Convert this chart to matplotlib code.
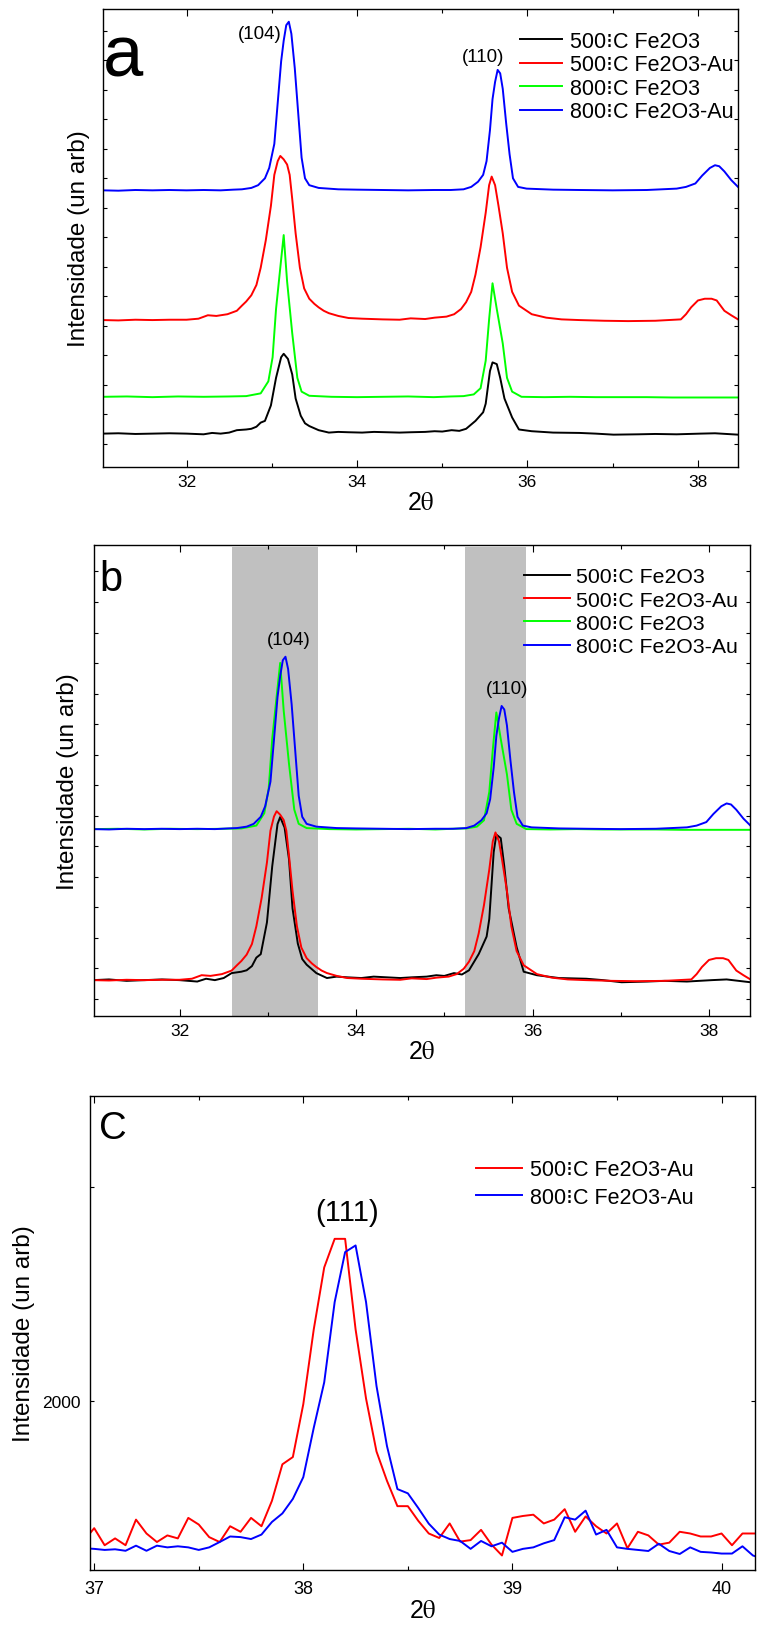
import numpy as np
import matplotlib.pyplot as plt
from matplotlib.ticker import MultipleLocator, FixedLocator

plt.rcParams['font.family'] = ['Liberation Sans', 'DejaVu Sans']
plt.rcParams['mathtext.fontset'] = 'stix'

# XRD patterns, net intensity (arb. units)
x_black = [31.02, 31.2, 31.4, 31.6, 31.8, 32.0, 32.2, 32.3, 32.4, 32.5, 32.59, 32.7, 32.76, 32.82, 32.87,
           32.92, 32.99, 33.05, 33.11, 33.14, 33.19, 33.24, 33.28, 33.34, 33.39, 33.44, 33.55, 33.67, 33.78,
           33.9, 34.06, 34.2, 34.35, 34.5, 34.63, 34.8, 34.91, 35.0, 35.11, 35.2, 35.28, 35.39, 35.48, 35.51,
           35.56, 35.59, 35.64, 35.68, 35.73, 35.82, 35.90, 36.05, 36.3, 36.61, 36.8, 37.01, 37.3, 37.5, 37.75,
           38.03, 38.2, 38.47]
i_black = [0, 7, -7, 0, 7, 0, -14, 14, 0, 21, 70, 84, 98, 140, 224,
           259, 574, 1134, 1554, 1624, 1519, 1204, 714, 364, 210, 154, 70, 21, 35,
           28, 21, 35, 28, 21, 28, 35, 49, 42, 70, 56, 98, 259, 434, 609,
           1274, 1449, 1414, 1134, 714, 329, 84, 49, 21, 14, 0, -21, -14, -7, -14,
           0, 7, -21]

x_red = [31.02, 31.2, 31.4, 31.6, 31.8, 32.0, 32.14, 32.25, 32.35, 32.48, 32.59, 32.65, 32.70, 32.76, 32.82,
         32.87, 32.93, 32.99, 33.03, 33.07, 33.10, 33.14, 33.18, 33.21, 33.24, 33.28, 33.33, 33.38, 33.44,
         33.50, 33.55, 33.61, 33.67, 33.78, 33.9, 34.06, 34.3, 34.5, 34.63, 34.8, 34.91, 35.05, 35.14, 35.22,
         35.28, 35.34, 35.39, 35.45, 35.51, 35.55, 35.58, 35.62, 35.66, 35.71, 35.76, 35.82, 35.90, 36.05,
         36.22, 36.4, 36.61, 36.9, 37.18, 37.5, 37.80, 37.86, 37.92, 38.00, 38.08, 38.16, 38.22, 38.31,
         38.39, 38.47]
i_red = [0, -7, 7, 0, 7, 7, 28, 98, 84, 119, 189, 294, 378, 504, 714,
         1064, 1624, 2324, 2954, 3234, 3339, 3269, 3164, 2954, 2464, 1764, 1064, 644, 434,
         329, 259, 189, 140, 84, 42, 28, 14, 7, 35, 21, 49, 70, 119, 224,
         364, 574, 924, 1484, 2184, 2744, 2919, 2744, 2324, 1764, 1064, 574, 294, 119,
         49, 14, 0, -14, -21, -14, 14, 119, 259, 399, 434, 434, 399, 189,
         98, 14]

x_green = [31.02, 31.3, 31.6, 31.9, 32.2, 32.5, 32.7, 32.87, 32.96, 33.01, 33.05, 33.10, 33.14, 33.18, 33.24,
           33.30, 33.35, 33.44, 33.7, 34.0, 34.3, 34.6, 34.9, 35.1, 35.25, 35.37, 35.45, 35.51, 35.55, 35.59,
           35.64, 35.71, 35.76, 35.82, 35.93, 36.2, 36.5, 36.8, 37.1, 37.4, 37.7, 38.0, 38.3, 38.47]
i_green = [0, 7, -7, 7, 0, 7, 14, 70, 315, 805, 1785, 2625, 3290, 2345, 1295,
           385, 105, 21, 0, -7, 0, 7, -7, 7, 14, 49, 175, 735, 1575, 2310,
           1785, 1085, 385, 105, 0, -7, 0, -7, -7, -7, -14, -14, -14, -14]

x_blue = [31.02, 31.2, 31.4, 31.6, 31.8, 32.0, 32.2, 32.4, 32.55, 32.65, 32.76, 32.84, 32.92, 32.97, 33.03,
          33.07, 33.11, 33.14, 33.17, 33.20, 33.23, 33.27, 33.31, 33.35, 33.39, 33.44, 33.55, 33.78, 34.0,
          34.3, 34.6, 34.9, 35.1, 35.25, 35.34, 35.42, 35.48, 35.52, 35.56, 35.59, 35.62, 35.65, 35.68,
          35.71, 35.75, 35.79, 35.83, 35.89, 35.99, 36.3, 36.61, 37.0, 37.4, 37.75, 37.86, 37.97, 38.05,
          38.14, 38.20, 38.25, 38.31, 38.39, 38.47]
i_blue = [0, -7, 7, 0, 7, 0, 7, 0, 14, 21, 49, 105, 245, 455, 945,
          1785, 2625, 3045, 3360, 3430, 3185, 2485, 1575, 665, 245, 105, 49, 21, 14,
          7, 0, 7, 7, 21, 70, 175, 315, 595, 1225, 1855, 2205, 2450, 2380,
          2065, 1365, 735, 245, 70, 35, 14, 7, 0, 7, 35, 70, 140, 301,
          455, 511, 490, 385, 210, 70]

labels = ['500⁝C Fe2O3', '500⁝C Fe2O3-Au', '800⁝C Fe2O3', '800⁝C Fe2O3-Au']
colors = ['black', 'red', '#00ff00', 'blue']
xs = [x_black, x_red, x_green, x_blue]
ys = [i_black, i_red, i_green, i_blue]

# Au (111) region, counts
x_au = np.round(np.arange(36.95, 40.21, 0.05), 2)
au_500 = [1343, 1403, 1323, 1355, 1323, 1443, 1378, 1338, 1369, 1355, 1451, 1420, 1361, 1338, 1412, 1386,
          1451, 1412, 1531, 1702, 1736, 1984, 2334, 2624, 2758, 2758, 2334, 2010, 1762, 1625, 1506, 1506,
          1437, 1378, 1357, 1425, 1340, 1347, 1395, 1326, 1275, 1451, 1460, 1466, 1425, 1443, 1492, 1386,
          1458, 1412, 1378, 1425, 1309, 1386, 1369, 1326, 1335, 1386, 1378, 1364, 1364, 1378, 1323, 1378,
          1378, 1378]
au_800 = [1309, 1306, 1301, 1304, 1297, 1321, 1297, 1321, 1313, 1318, 1313, 1301, 1313, 1338, 1364, 1361,
          1352, 1373, 1432, 1472, 1540, 1642, 1873, 2086, 2462, 2696, 2727, 2462, 2069, 1788, 1586, 1566,
          1497, 1424, 1373, 1352, 1343, 1306, 1343, 1318, 1335, 1292, 1306, 1313, 1332, 1347, 1454, 1443,
          1485, 1373, 1395, 1313, 1306, 1301, 1296, 1330, 1296, 1282, 1313, 1292, 1289, 1284, 1284, 1318,
          1275, 1258]

offsets_a = [679, 2989, 1428, 5628]
peaks_b = [3311, 3430, 3374, 3500]
offsets_b = [728, 728, 3794, 3794]

W, H = 757, 1633
fig = plt.figure(figsize=(W / 100, H / 100), dpi=100)


def box(l, t, r, b):
    return [l / W, 1 - b / H, (r - l) / W, (b - t) / H]


ax_a = fig.add_axes(box(103, 10, 738, 468))
ax_b = fig.add_axes(box(94, 546, 750, 1017))
ax_c = fig.add_axes(box(90, 1097, 755, 1571))

for ax in (ax_a, ax_b, ax_c):
    for s in ax.spines.values():
        s.set_linewidth(1.0)
    ax.tick_params(which='both', direction='in', top=True, right=True, width=0.8)
    ax.tick_params(which='major', length=5)
    ax.tick_params(which='minor', length=3)
    ax.tick_params(axis='x', labelsize=12.5, pad=5)
    ax.set_ylabel('Intensidade (un arb)', fontsize=17.5)

# panel a
for x, y, c, lab, off in zip(xs, ys, colors, labels, offsets_a):
    ax_a.plot(x, np.array(y) + off, color=c, lw=1.4, label=lab)
ax_a.set_xlim(31.02, 38.47)
ax_a.set_ylim(0, 9317)
ax_a.xaxis.set_major_locator(MultipleLocator(2))
ax_a.xaxis.set_minor_locator(MultipleLocator(1))
ax_a.yaxis.set_major_locator(FixedLocator(np.arange(470, 9300, 600)))
ax_a.tick_params(axis='y', which='major', length=3, labelleft=False)
ax_a.text(0.0, 0.854, 'a', transform=ax_a.transAxes, fontsize=52, va='baseline', ha='left')
ax_a.text(32.86, 8813, '(104)', fontsize=13.5, ha='center', va='center')
ax_a.text(35.48, 8358, '(110)', fontsize=13.5, ha='center', va='center')
ax_a.legend(loc='upper left', bbox_to_anchor=(0.657, 0.953), frameon=False, fontsize=15.5,
            borderpad=0, borderaxespad=0, handlelength=1.95, handletextpad=0.37, labelspacing=0.12)
ax_a.set_xlabel(r'2$\mathrm{\theta}$', fontsize=18, labelpad=1)
ax_a.yaxis.labelpad = 9

# panel b
ax_b.axvspan(32.59, 33.57, ymax=0.995, color='#c0c0c0', lw=0)
ax_b.axvspan(35.23, 35.93, ymax=0.995, color='#c0c0c0', lw=0)
for x, y, c, lab, pk, off in zip(xs, ys, colors, labels, peaks_b, offsets_b):
    y = np.array(y, dtype=float)
    ax_b.plot(x, y / y.max() * pk + off, color=c, lw=1.4, label=lab)
ax_b.set_xlim(31.03, 38.465)
ax_b.set_ylim(0, 9562)
ax_b.xaxis.set_major_locator(MultipleLocator(2))
ax_b.xaxis.set_minor_locator(MultipleLocator(1))
ax_b.yaxis.set_major_locator(FixedLocator(np.arange(345, 9500, 620)))
ax_b.tick_params(axis='y', which='major', length=3, labelleft=False)
ax_b.text(0.0076, 0.905, 'b', transform=ax_b.transAxes, fontsize=30, va='baseline', ha='left')
ax_b.text(33.24, 7651, '(104)', fontsize=13.5, ha='center', va='center')
ax_b.text(35.71, 6657, '(110)', fontsize=13.5, ha='center', va='center')
ax_b.legend(loc='upper left', bbox_to_anchor=(0.6555, 0.9525), frameon=False, fontsize=15.3,
            borderpad=0, borderaxespad=0, handlelength=2.15, handletextpad=0.3, labelspacing=0.2)
ax_b.set_xlabel(r'2$\mathrm{\theta}$', fontsize=18, labelpad=1)
ax_b.yaxis.labelpad = 11

# panel c
ax_c.plot(x_au, au_500, color='red', lw=1.4, label='500⁝C Fe2O3-Au')
ax_c.plot(x_au, au_800, color='blue', lw=1.4, label='800⁝C Fe2O3-Au')
ax_c.set_xlim(36.98, 40.16)
ax_c.set_ylim(1207, 3427)
ax_c.xaxis.set_major_locator(MultipleLocator(1))
ax_c.xaxis.set_minor_locator(MultipleLocator(0.5))
ax_c.yaxis.set_major_locator(FixedLocator([2000, 3000]))
ax_c.set_yticklabels(['2000', ''])
ax_c.tick_params(axis='y', which='major', length=3, labelsize=12.5, pad=7)
ax_c.tick_params(axis='x', labelsize=13, pad=7)
ax_c.text(0.0135, 0.912, 'C', transform=ax_c.transAxes, fontsize=27.5, va='baseline', ha='left')
ax_c.text(38.21, 2886, '(111)', fontsize=21, ha='center', va='center')
ax_c.legend(loc='upper left', bbox_to_anchor=(0.581, 0.867), frameon=False, fontsize=15.5,
            borderpad=0, borderaxespad=0, handlelength=2.1, handletextpad=0.4, labelspacing=0.3)
ax_c.set_xlabel(r'2$\mathrm{\theta}$', fontsize=18, labelpad=1)
ax_c.yaxis.labelpad = 5

fig.savefig('out.png', dpi=100)
